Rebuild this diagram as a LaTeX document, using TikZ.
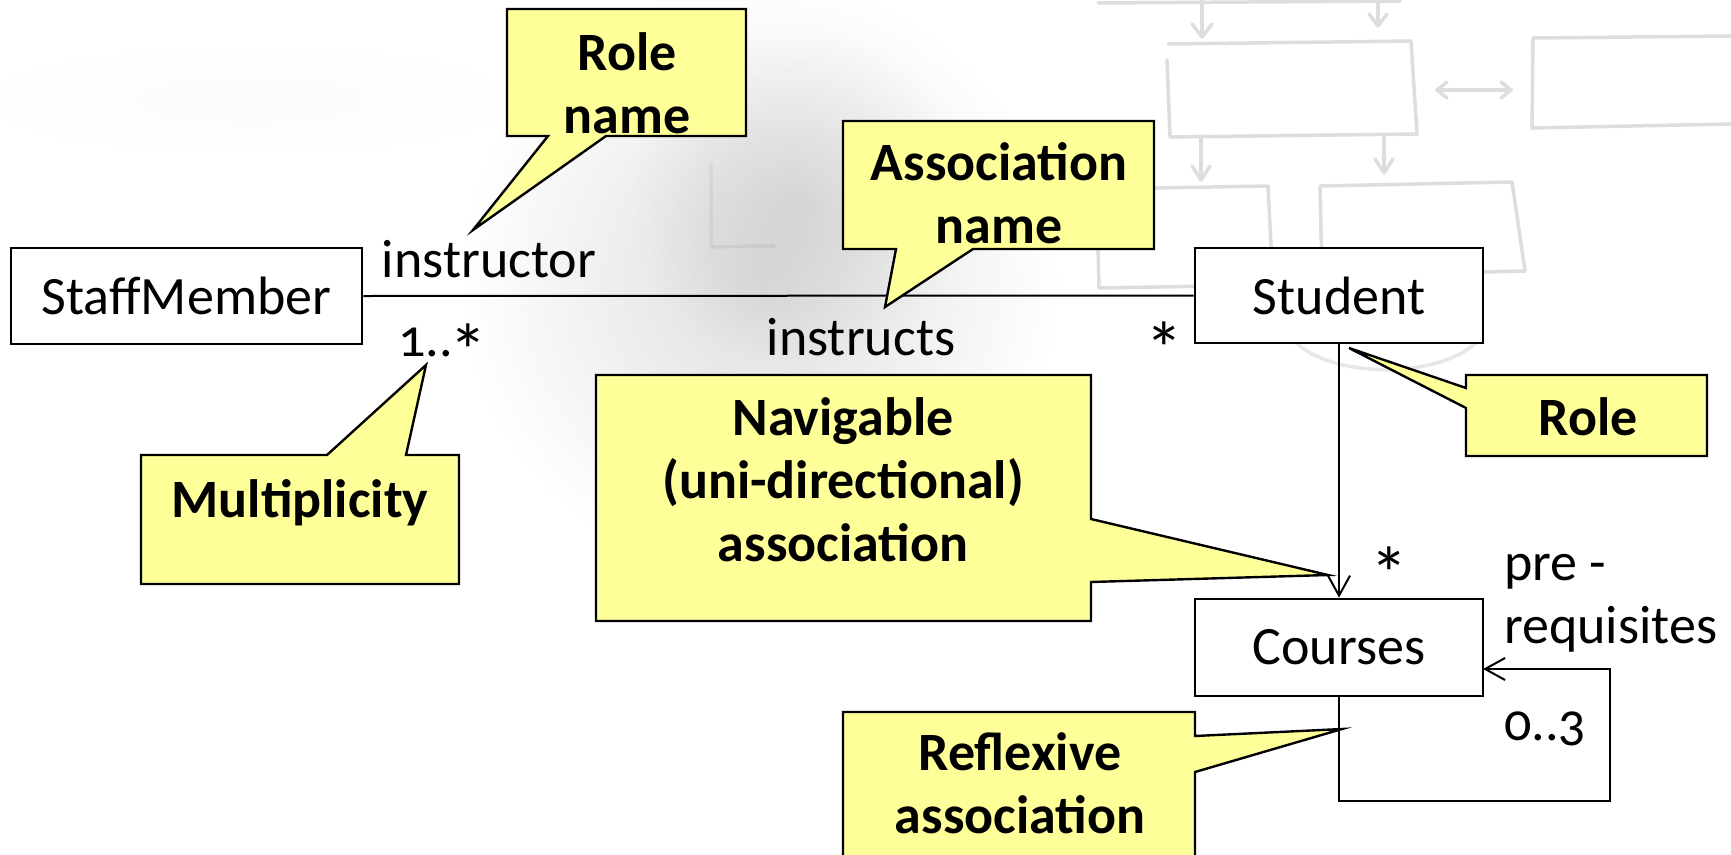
\documentclass[tikz,border=0pt]{standalone}
\usepackage{fontspec}
\usepackage{graphicx}
\setmainfont{Carlito}[Numbers=OldStyle]
\usetikzlibrary{arrows.meta,fadings}

\definecolor{notefill}{RGB}{255,255,153}
\definecolor{sketch}{RGB}{221,221,221}

% soft radial fade used for the grey backdrop
\tikzfading[name=softblob, inner color=transparent!0, outer color=transparent!100]

% a larger, slightly lowered asterisk for multiplicities
\newcommand\multstar{\raisebox{-21pt}{\scalebox{1.4}{*}}}

\begin{document}
\begin{tikzpicture}[x=1pt,y=-1pt,
  umlbox/.style={draw, line width=2.6pt, fill=white, inner sep=0pt,
                 font=\fontsize{54}{60}\selectfont},
  assoc/.style={line width=2pt},
  navtip/.style={-{Straight Barb[length=20pt,width=22pt]}},
  lbl/.style={inner sep=0pt, font=\fontsize{54}{63}\selectfont},
  callout/.style={fill=notefill, draw=black, line width=2.4pt, line join=miter},
  notetext/.style={inner sep=0pt, align=center,
                   font=\fontsize{54}{63}\selectfont\bfseries},
  sketchline/.style={draw=sketch, line width=3.5pt, line cap=round, line join=round},
]
\useasboundingbox (0,0) rectangle (1731,854);
\fill[white] (0,0) rectangle (1731,854);

% soft grey backdrop (hand holding a pen)
\fill[black, opacity=0.13, path fading=softblob] (760,280) ellipse [x radius=300, y radius=300];
\fill[black, opacity=0.08, path fading=softblob] (800,200) ellipse [x radius=170, y radius=170];
\fill[black, opacity=0.015, path fading=softblob] (250,100) ellipse [x radius=300, y radius=60];

% faint hand-drawn flow chart in the backdrop
\draw[sketchline] (1098,3) -- (1400,1);
\draw[sketchline] (1202,0) -- (1202,36);
\draw[sketchline] (1192,24) -- (1202,37) -- (1212,24);
\draw[sketchline] (1378,0) -- (1378,25);
\draw[sketchline] (1369,14) -- (1378,26) -- (1387,14);
\draw[sketchline] (1168,44) -- (1411,41) -- (1417,134) -- (1170,137) -- (1167,60);
\draw[sketchline] (1533,38) -- (1731,36);
\draw[sketchline] (1533,38) -- (1532,128) -- (1731,124);
\draw[sketchline] (1437,90) -- (1511,90);
\draw[sketchline] (1447,82) -- (1437,90) -- (1447,98);
\draw[sketchline] (1501,82) -- (1511,90) -- (1501,98);
\draw[sketchline] (1201,136) -- (1201,179);
\draw[sketchline] (1192,166) -- (1201,180) -- (1210,166);
\draw[sketchline] (1384,134) -- (1384,172);
\draw[sketchline] (1375,159) -- (1384,173) -- (1393,159);
\draw[sketchline] (1100,189) -- (1268,186) -- (1273,285) -- (1099,288) -- (1098,245);
\draw[sketchline] (1320,186) -- (1512,182) -- (1525,271) -- (1322,276) -- cycle;
\draw[sketchline, draw=sketch!70] (1480,338) arc [start angle=20, end angle=340, x radius=100, y radius=48];
\draw[sketchline, draw=black, opacity=0.05] (711,164) -- (711,247) -- (774,246);

% classes
\node[umlbox, minimum width=351pt, minimum height=96pt] (staff) at (186.5,296) {StaffMember};
\node[umlbox, minimum width=288pt, minimum height=95pt] (student) at (1339,295.5) {Student};
\node[umlbox, minimum width=288pt, minimum height=97pt] (courses) at (1339,647.5) {Courses};

% associations
\draw[assoc] (staff.east) -- (student.west);
\draw[assoc, navtip] (student.south) -- (courses.north);
\coordinate (loopcorner) at (1610,801);
\coordinate (loopin) at (1483,669);
\draw[assoc, navtip] (courses.south) |- (loopcorner) |- (loopin);

% role names, association name and multiplicities
\node[lbl, anchor=base] (rolelbl) at (489,277) {instructor};
\node[lbl, anchor=base] (assoclbl) at (861,355) {instructs};
\node[lbl, anchor=base west] (multstaff) at (398,356) {1..\kern-3pt\multstar};
\node[lbl, anchor=base] (multstudent) at (1164,354) {\multstar};
\node[lbl, anchor=base] (multcourse) at (1389,579) {\multstar};
\node[lbl, anchor=base west, align=left] (prereq) at (1504,643) {pre -\\requisites};
\node[lbl, anchor=base west] (multprereq) at (1504,740) {0..3};

% call-outs
\coordinate (tipRoleName) at (473,230);
\coordinate (tipAssocName) at (885,307);
\coordinate (tipMult) at (426,365);
\coordinate (tipRole) at (1349,348);
\coordinate (tipNav) at (1328,575);
\coordinate (tipRefl) at (1342,729);

\filldraw[callout] (507,9) -- (746,9) -- (746,136) -- (606,136) -- (tipRoleName)
  -- (548,136) -- (507,136) -- cycle;
\filldraw[callout] (843,121) -- (1154,121) -- (1154,249) -- (973,249) -- (tipAssocName)
  -- (896,249) -- (843,249) -- cycle;
\filldraw[callout] (141,455) -- (327,455) -- (tipMult) -- (406,455) -- (459,455)
  -- (459,584) -- (141,584) -- cycle;
\filldraw[callout] (1466,375) -- (1707,375) -- (1707,456) -- (1466,456) -- (1466,408)
  -- (tipRole) -- (1466,388) -- cycle;
\filldraw[callout] (596,375) -- (1091,375) -- (1091,519) -- (tipNav) -- (1091,582)
  -- (1091,621) -- (596,621) -- cycle;
\filldraw[callout] (843,712) -- (1195,712) -- (1195,736) -- (tipRefl) -- (1195,772)
  -- (1195,880) -- (843,880) -- cycle;

\node[notetext] (noteRoleName) at (627,83) {Role\\name};
\node[notetext] (noteAssocName) at (999,193) {Association\\name};
\node[notetext] (noteMult) at (300,503) {Multiplicity};
\node[notetext] (noteRole) at (1588,417) {Role};
\node[notetext] (noteNav) at (843,480) {Navigable\\(uni-directional)\\association};
\node[notetext] (noteRefl) at (1020,783) {Reflexive\\association};
\end{tikzpicture}
\end{document}
